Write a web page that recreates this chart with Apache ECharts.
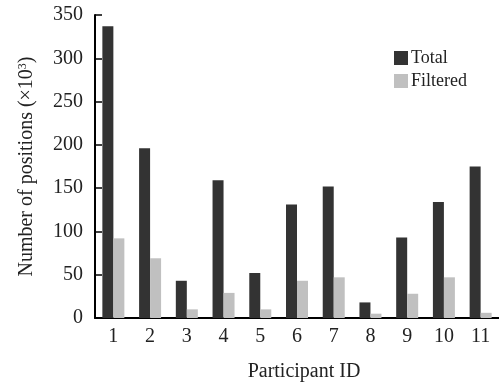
<!DOCTYPE html>
<html>
<head>
<meta charset="utf-8">
<script src="https://cdn.jsdelivr.net/npm/echarts@6/dist/echarts.min.js"></script>
<style>
  html, body { margin: 0; padding: 0; background: #fff; }
  #chart { width: 499px; height: 387px; }
</style>
</head>
<body>
<div id="chart"></div>
<script>
// Participant IDs and position counts (thousands)
const participants = ['1', '2', '3', '4', '5', '6', '7', '8', '9', '10', '11'];
const totalPositions = [337, 196, 43, 159, 52, 131, 152, 18, 93, 134, 175];
const filteredPositions = [92, 69, 10, 29, 10, 43, 47, 5, 28, 47, 6];
const yTicks = { min: 0, max: 350, interval: 50 };

const FONT = 'Liberation Serif';
const INK = '#222';
const chart = echarts.init(document.getElementById('chart'), null, { renderer: 'canvas' });

chart.setOption({
  animation: false,
  textStyle: { fontFamily: FONT, color: INK },
  legend: {
    data: ['Total', 'Filtered'],
    orient: 'vertical',
    left: 394,
    top: 49,
    padding: 0,
    itemWidth: 14,
    itemHeight: 14,
    itemGap: 5,
    icon: 'rect',
    textStyle: { fontFamily: FONT, fontSize: 18, color: INK, padding: [0, 0, 0, -2] }
  },
  grid: { left: 95, right: 0, top: 15, bottom: 69, containLabel: false, outerBoundsMode: 'none' },
  xAxis: {
    type: 'category',
    data: participants,
    name: 'Participant ID',
    nameLocation: 'middle',
    nameGap: 44,
    nameTextStyle: { fontFamily: FONT, fontSize: 20, color: INK, padding: [0, 0, 0, 14] },
    axisLine: { lineStyle: { color: '#000', width: 2 } },
    axisTick: { show: false },
    axisLabel: { fontFamily: FONT, fontSize: 20, color: INK, margin: 9 }
  },
  yAxis: {
    type: 'value',
    min: yTicks.min,
    max: yTicks.max,
    interval: yTicks.interval,
    name: '{n|Number of positions (×10}{s|3}{n|)}',
    nameLocation: 'middle',
    nameGap: 58,
    nameTextStyle: {
      rich: {
        n: { fontFamily: FONT, fontSize: 20, color: INK },
        s: { fontFamily: FONT, fontSize: 12, color: INK, verticalAlign: 'top', padding: [0, 0, 8, 0] }
      }
    },
    axisLine: { show: true, lineStyle: { color: '#000', width: 2 } },
    axisTick: { show: true, inside: true, length: 7, lineStyle: { color: '#000', width: 1.5 } },
    axisLabel: { fontFamily: FONT, fontSize: 20, color: INK, margin: 12 },
    splitLine: { show: false }
  },
  series: [
    {
      name: 'Total',
      type: 'bar',
      data: totalPositions,
      barWidth: 11,
      barGap: '0%',
      itemStyle: { color: '#333333' }
    },
    {
      name: 'Filtered',
      type: 'bar',
      data: filteredPositions,
      barWidth: 11,
      itemStyle: { color: '#c0c0c0' }
    }
  ]
});
</script>
</body>
</html>
